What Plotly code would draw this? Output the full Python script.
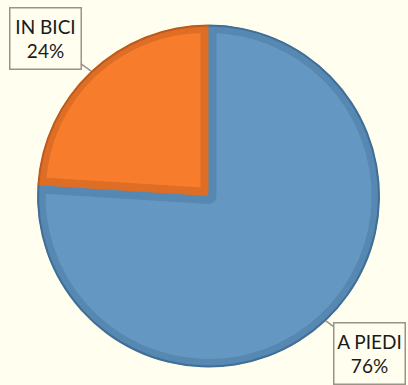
import math
import plotly.graph_objects as go

# Modal split of the trip
labels = ["A PIEDI", "IN BICI"]
values = [76, 24]

fill_colors = ["#6498C2", "#F77D2C"]
band_colors = ["#5688B1", "#DE6D25"]
rim_colors = ["#3F6F98", "#BD5A1C"]
bg = "#FFFEEF"
clear = "rgba(0,0,0,0)"

W, H = 408, 385
cx, cy, R = 208.5, 196.0, 171.0   # pie centre / radius in px
band = 8.0                        # bevel band width in px


def dom(half):
    return dict(x=[(cx - half) / W, (cx + half) / W],
                y=[1 - (cy + half) / H, 1 - (cy - half) / H])


common = dict(labels=labels, values=values, sort=False, direction="clockwise",
              rotation=0, textinfo="none", hoverinfo="skip", showlegend=False)

fig = go.Figure()

# base disc in the darker bevel colours
fig.add_trace(go.Pie(**common, domain=dom(R),
                     marker=dict(colors=band_colors)))

# first slice: light fill with a wide darker outline (inner half = bevel)
fig.add_trace(go.Pie(**common, domain=dom(R),
                     marker=dict(colors=[fill_colors[0], clear],
                                 line=dict(color=[band_colors[0], clear],
                                           width=[2 * band, 0]))))

# second slice: inset copy pulled along its bisector so the outline
# sits inside the slice edges
total = sum(values)
half_ang = math.radians(180 * values[1] / total)
s = (band / 2) / math.sin(half_ang)
r_in = -s * math.cos(half_ang) + math.sqrt((R - band / 2) ** 2 - (band / 2) ** 2)
pull = s / r_in
fig.add_trace(go.Pie(**common, domain=dom(r_in + s), pull=[0, pull],
                     marker=dict(colors=[clear, fill_colors[1]],
                                 line=dict(color=[clear, band_colors[1]],
                                           width=[0, band]))))

# background ring hides outline overflow outside the disc
outer = R + 14
fig.add_trace(go.Pie(values=[1], sort=False, textinfo="none", hoverinfo="skip",
                     showlegend=False, hole=R / outer, domain=dom(outer),
                     marker=dict(colors=[bg])))

# thin dark rim along the circumference
fig.add_trace(go.Pie(**common, hole=(R - 1.5) / (R + 0.5), domain=dom(R + 0.5),
                     marker=dict(colors=rim_colors)))

# callout labels
box_centres = [(369, 353), (45, 38)]
cum = 0
for lab, v, (bx, by) in zip(labels, values, box_centres):
    mid = math.radians(90 - 360 * (cum + v / 2) / total)
    cum += v
    tx = cx + R * math.cos(mid)
    ty = cy - R * math.sin(mid)
    fig.add_annotation(
        x=tx / W, y=1 - ty / H, xref="paper", yref="paper",
        ax=bx - tx, ay=by - ty,
        text=f"{lab}<br>{round(100 * v / total)}%",
        showarrow=True, arrowhead=0, arrowwidth=1.5, arrowcolor="#9B9288",
        bordercolor="#9B9288", borderwidth=1.5, borderpad=0, bgcolor=bg,
        width=70, height=60, align="center",
        font=dict(family="Lato", size=19, color="#1A1A1A"),
    )

fig.update_layout(width=W, height=H, autosize=False,
                  margin=dict(l=0, r=0, t=0, b=0),
                  paper_bgcolor=bg, plot_bgcolor=bg, showlegend=False)

fig.write_html("out.html")
